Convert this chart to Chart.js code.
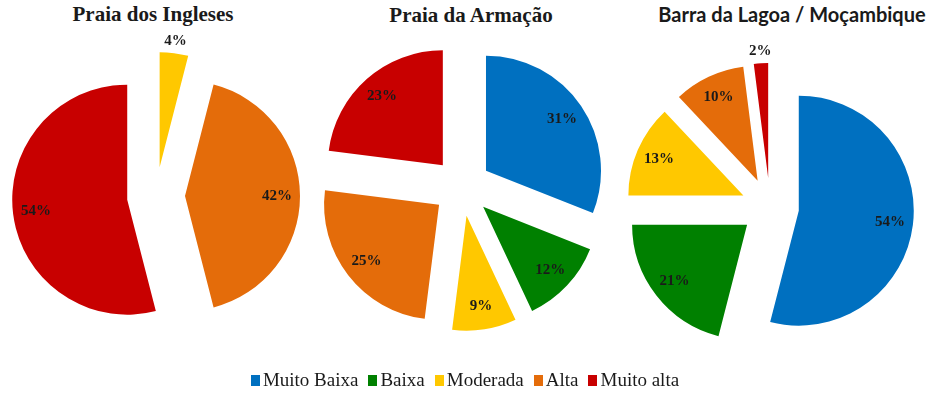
<!DOCTYPE html>
<html>
<head>
<meta charset="utf-8">
<script src="https://cdn.jsdelivr.net/npm/chart.js@4.4.1/dist/chart.umd.min.js"></script>
<style>
  body { margin: 0; background: #fff; width: 936px; height: 419px; position: relative; overflow: hidden; }
  .title { position: absolute; transform: translateX(-50%); white-space: nowrap; color: #1a1a1a; line-height: 21px; }
  .serif { font: bold 21px "Liberation Serif", "Times New Roman", serif; }
  .sans { font: bold 20px Lato, "Liberation Sans", sans-serif; }
  canvas { position: absolute; }
  #legend { position: absolute; left: 0; top: 370px; width: 930px; display: flex; justify-content: center;
            font: 19px "Liberation Serif", "Times New Roman", serif; line-height: 20px; color: #1a1a1a; }
  #legend span.item { margin: 0 5px; white-space: nowrap; }
  #legend i { display: inline-block; width: 9px; height: 11px; margin-right: 3px; }
</style>
</head>
<body>
<div class="title serif" id="t0" style="left:153px; top:2px"></div>
<div class="title serif" id="t1" style="left:471px; top:3px"></div>
<div class="title sans" id="t2" style="left:792px; top:2px"></div>
<canvas id="pie0" width="300" height="380" style="left:6px; top:6px"></canvas>
<canvas id="pie1" width="300" height="380" style="left:312px; top:-3px"></canvas>
<canvas id="pie2" width="300" height="380" style="left:620px; top:17px"></canvas>
<div id="legend"></div>
<script>
// categories (same order for every pie, clockwise from 12 o'clock)
const categories = ['Muito Baixa', 'Baixa', 'Moderada', 'Alta', 'Muito alta'];
const titles = ['Praia dos Ingleses', 'Praia da Armação', 'Barra da Lagoa / Moçambique'];

// percentages per beach
const inglesesValues = [0, 0, 4, 42, 54];
const armacaoValues = [31, 12, 9, 25, 23];
const lagoaValues = [54, 21, 13, 10, 2];

const colors = ['#0070C0', '#008000', '#FFC800', '#E46C0A', '#C80000'];

// pulls every slice out from the centre (like Excel's exploded pie)
const explodePlugin = {
  id: 'explode',
  afterDatasetUpdate(chart, args, opts) {
    args.meta.data.forEach(arc => {
      const mid = (arc.startAngle + arc.endAngle) / 2;
      arc.x += Math.cos(mid) * opts.distance;
      arc.y += Math.sin(mid) * opts.distance;
    });
  }
};

// percent labels: inside near the rim, outside for tiny slices
const pctLabels = {
  id: 'pctLabels',
  afterDatasetsDraw(chart) {
    const ctx = chart.ctx;
    const values = chart.data.datasets[0].data;
    ctx.save();
    ctx.font = 'bold 15px "Liberation Serif", "Times New Roman", serif';
    ctx.fillStyle = '#1a1a1a';
    ctx.textAlign = 'center';
    ctx.textBaseline = 'middle';
    chart.getDatasetMeta(0).data.forEach((arc, i) => {
      if (!values[i]) return;
      const mid = (arc.startAngle + arc.endAngle) / 2;
      const dist = values[i] < 5 ? arc.outerRadius + 12 : arc.outerRadius * 0.8;
      ctx.fillText(values[i] + '%', arc.x + Math.cos(mid) * dist, arc.y + Math.sin(mid) * dist);
    });
    ctx.restore();
  }
};

function makePie(canvasId, values) {
  return new Chart(document.getElementById(canvasId), {
    type: 'pie',
    data: {
      labels: categories,
      datasets: [{
        data: values,
        backgroundColor: colors,
        borderWidth: 0,
        radius: 115
      }]
    },
    options: {
      responsive: false,
      animation: false,
      layout: { padding: 0 },
      plugins: {
        legend: { display: false },
        tooltip: { enabled: false },
        explode: { distance: 29 }
      }
    },
    plugins: [explodePlugin, pctLabels]
  });
}

makePie('pie0', inglesesValues);
makePie('pie1', armacaoValues);
makePie('pie2', lagoaValues);

titles.forEach((t, i) => { document.getElementById('t' + i).textContent = t; });

// shared legend
const legend = document.getElementById('legend');
categories.forEach((c, i) => {
  const item = document.createElement('span');
  item.className = 'item';
  item.innerHTML = '<i style="background:' + colors[i] + '"></i>' + c;
  legend.appendChild(item);
});
</script>
</body>
</html>
